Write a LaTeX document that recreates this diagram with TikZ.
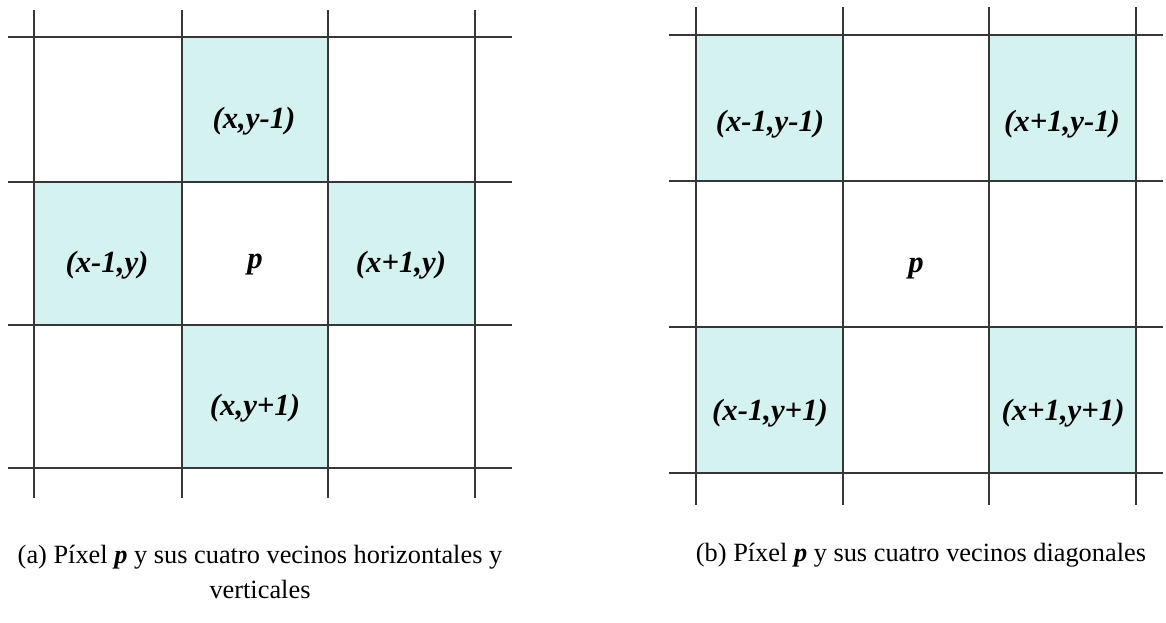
\documentclass[tikz,border=0pt]{standalone}
\usepackage{fontspec}
\setmainfont{Liberation Serif}
\usepackage{xcolor}
\definecolor{vecino}{RGB}{212,242,240}
\definecolor{rejilla}{RGB}{55,55,55}

\begin{document}
\begin{tikzpicture}[x=0.02cm,y=-0.02cm,
  celda/.style={font=\fontsize{17.5}{20}\selectfont\bfseries\itshape},
  linea/.style={draw=rejilla,line width=1.1pt},
  pie/.style={font=\fontsize{15}{20}\selectfont,align=center}]
  \useasboundingbox (0,0) rectangle (1166,622);
  % (a) vecinos horizontales y verticales
  \fill[vecino] (182,37) rectangle (328,182);
  \fill[vecino] (34,182) rectangle (182,325);
  \fill[vecino] (328,182) rectangle (475,325);
  \fill[vecino] (182,325) rectangle (328,468);
  \foreach \x in {34,182,328,475} \draw[linea] (\x,10) -- (\x,498);
  \foreach \y in {37,182,325,468} \draw[linea] (8,\y) -- (512,\y);
  \node[celda] (a-n) at (254,121) {(x,y-1)};
  \node[celda] (a-o) at (107,265) {(x-1,y)};
  \node[celda] (a-p) at (255,265) {p};
  \node[celda] (a-e) at (401,265) {(x+1,y)};
  \node[celda] (a-s) at (255,408) {(x,y+1)};
  \node[pie] (pie-a) at (260,572) {(a) Píxel \textbf{\textit{p}} y sus cuatro vecinos horizontales y\\verticales};
  % (b) vecinos diagonales
  \fill[vecino] (696,35) rectangle (843,181);
  \fill[vecino] (989,35) rectangle (1136,181);
  \fill[vecino] (696,327) rectangle (843,473);
  \fill[vecino] (989,327) rectangle (1136,473);
  \foreach \x in {696,843,989,1136} \draw[linea] (\x,7) -- (\x,505);
  \foreach \y in {35,181,327,473} \draw[linea] (669,\y) -- (1163,\y);
  \node[celda] (b-no) at (770,124) {(x-1,y-1)};
  \node[celda] (b-ne) at (1062,124) {(x+1,y-1)};
  \node[celda] (b-p) at (916,269) {p};
  \node[celda] (b-so) at (770,413) {(x-1,y+1)};
  \node[celda] (b-se) at (1063,413) {(x+1,y+1)};
  \node[pie] (pie-b) at (921,555) {(b) Píxel \textbf{\textit{p}} y sus cuatro vecinos diagonales};
\end{tikzpicture}
\end{document}
